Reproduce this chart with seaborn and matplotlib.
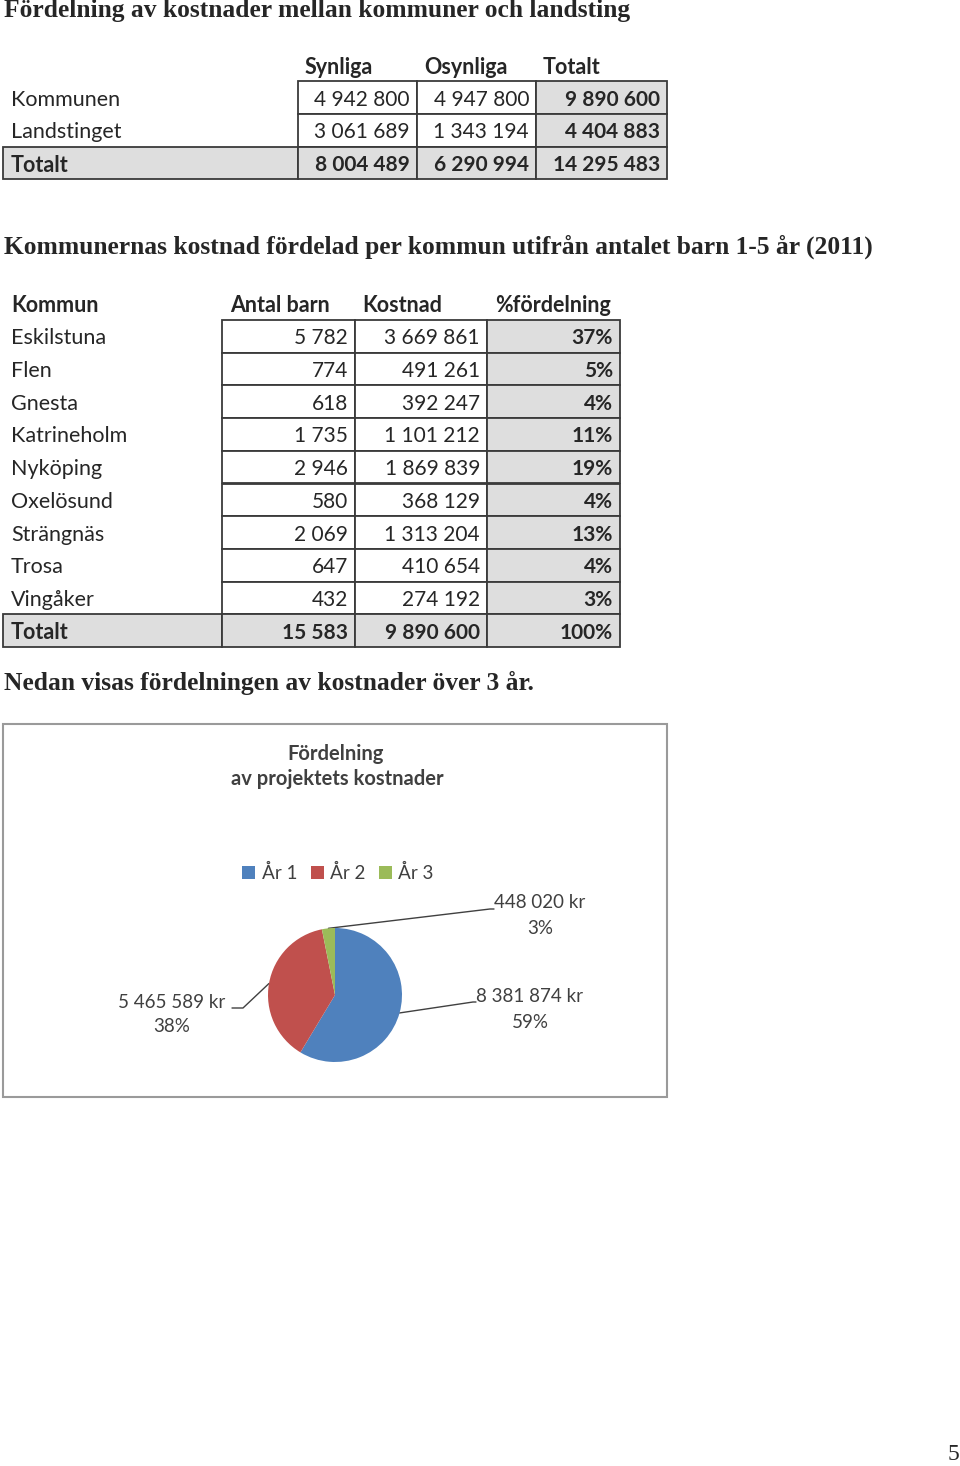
import numpy as np
import matplotlib
matplotlib.use("Agg")
import matplotlib.pyplot as plt
import matplotlib.patches as mpatches
import seaborn as sns

# Table 1: kommuner och landsting
t1_rows = ["Kommunen", "Landstinget"]
t1_cols = ["Synliga", "Osynliga", "Totalt"]
t1_synliga = [4942800, 3061689]
t1_osynliga = [4947800, 1343194]

# Table 2: kostnad per kommun
kommuner = ["Eskilstuna", "Flen", "Gnesta", "Katrineholm", "Nyköping",
            "Oxelösund", "Strängnäs", "Trosa", "Vingåker"]
antal_barn = [5782, 774, 618, 1735, 2946, 580, 2069, 647, 432]
kostnad = [3669861, 491261, 392247, 1101212, 1869839, 368129, 1313204, 410654, 274192]
fordelning = [37, 5, 4, 11, 19, 4, 13, 4, 3]
kostnad_totalt = 9890600
t2_cols = ["Kommun", "Antal barn", "Kostnad", "%fördelning"]

# Pie: kostnader över 3 år
ar_labels = ["År 1", "År 2", "År 3"]
ar_kostnad = [8381874, 5465589, 448020]
ar_colors = ["#4F81BD", "#C0504D", "#9BBB59"]

sns.set_theme(style="white")
plt.rcParams['font.family'] = ['Lato', 'DejaVu Sans']

SERIF = ['Liberation Serif', 'DejaVu Serif']
GRAY = "#DEDEDE"
EDGE = "#3a3a3a"
DY = 2  # baseline nudge for table text


def fmt(v):
    return f"{v:,}".replace(",", " ")


fig = plt.figure(figsize=(9.6, 14.66), dpi=100)
ax = fig.add_axes([0, 0, 1, 1])
ax.set_xlim(0, 960)
ax.set_ylim(1466, 0)
ax.axis("off")


def cell(x0, y0, x1, y1, fill="white"):
    ax.add_patch(mpatches.Rectangle((x0, y0), x1 - x0, y1 - y0, facecolor=fill,
                                    edgecolor=EDGE, linewidth=1.3, zorder=1))


# headings
HFS = 18.4
ax.text(4, 11, "Fördelning av kostnader mellan kommuner och landsting",
        family=SERIF, fontweight="bold", fontsize=HFS, va="center", ha="left")
ax.text(4, 247, "Kommunernas kostnad fördelad per kommun utifrån antalet barn 1-5 år (2011)",
        family=SERIF, fontweight="bold", fontsize=HFS, va="center", ha="left")
ax.text(4, 683, "Nedan visas fördelningen av kostnader över 3 år.",
        family=SERIF, fontweight="bold", fontsize=HFS, va="center", ha="left")
ax.text(953, 1455, "5", family=SERIF, fontsize=17, va="center", ha="center")

FS = 15.5
NFS = 15

# ---- table 1
c1 = [298, 417, 536, 667]
r1 = [81, 114, 147, 179]
for x, name in zip([305, 424, 543], t1_cols):
    ax.text(x, 66 + DY, name, fontsize=FS, fontweight="bold", va="center")
t1_tot = [a + b for a, b in zip(t1_synliga, t1_osynliga)]
for i, name in enumerate(t1_rows):
    y0, y1 = r1[i], r1[i + 1]
    yc = (y0 + y1) / 2 + DY
    ax.text(11, yc, name, fontsize=FS, va="center")
    vals = [t1_synliga[i], t1_osynliga[i], t1_tot[i]]
    for j, v in enumerate(vals):
        cell(c1[j], y0, c1[j + 1], y1, GRAY if j == 2 else "white")
        ax.text(c1[j + 1] - 7, yc, fmt(v), fontsize=NFS, va="center", ha="right",
                fontweight="bold" if j == 2 else "normal")
y0, y1 = r1[2], r1[3]
yc = (y0 + y1) / 2 + DY
cell(3, y0, c1[0], y1, GRAY)
ax.text(11, yc, "Totalt", fontsize=FS, fontweight="bold", va="center")
tot_vals = [sum(t1_synliga), sum(t1_osynliga), sum(t1_tot)]
for j, v in enumerate(tot_vals):
    cell(c1[j], y0, c1[j + 1], y1, GRAY)
    ax.text(c1[j + 1] - 7, yc, fmt(v), fontsize=NFS, fontweight="bold", va="center", ha="right")

# ---- table 2
c2 = [222, 355, 487, 620]
rh = (647 - 320) / 10
for x, name in zip([11, 230, 362, 495], t2_cols):
    ax.text(x, 304 + DY, name, fontsize=FS, fontweight="bold", va="center")
for i, name in enumerate(kommuner):
    y0 = 320 + i * rh
    yc = y0 + rh / 2 + DY
    ax.text(11, yc, name, fontsize=FS, va="center")
    vals = [fmt(antal_barn[i]), fmt(kostnad[i]), f"{fordelning[i]}%"]
    for j, s in enumerate(vals):
        cell(c2[j], y0, c2[j + 1], y0 + rh, GRAY if j == 2 else "white")
        ax.text(c2[j + 1] - 7, yc, s, fontsize=NFS, va="center", ha="right",
                fontweight="bold" if j == 2 else "normal")
y0 = 320 + 9 * rh
yc = y0 + rh / 2 + DY
cell(3, y0, c2[0], y0 + rh, GRAY)
ax.text(11, yc, "Totalt", fontsize=FS, fontweight="bold", va="center")
for j, s in enumerate([fmt(sum(antal_barn)), fmt(kostnad_totalt), "100%"]):
    cell(c2[j], y0, c2[j + 1], y0 + rh, GRAY)
    ax.text(c2[j + 1] - 7, yc, s, fontsize=NFS, fontweight="bold", va="center", ha="right")

# ---- chart box
ax.add_patch(mpatches.Rectangle((3, 724), 664, 373, facecolor="white",
                                edgecolor="#9a9a9a", linewidth=1.5, zorder=1))
ax.text(336, 754, "Fördelning", fontsize=14.5, fontweight="bold", color="#404040",
        ha="center", va="center")
ax.text(337, 779, "av projektets kostnader", fontsize=14.5, fontweight="bold", color="#404040",
        ha="center", va="center")

cx, cy, R = 335, 995, 67
ax_pie = fig.add_axes([(cx - 70) / 960, 1 - (cy + 70) / 1466, 140 / 960, 140 / 1466])
wedges, _ = ax_pie.pie(ar_kostnad, colors=ar_colors, startangle=90, counterclock=False,
                       wedgeprops=dict(linewidth=0))
ax_pie.set_xlim(-70 / R, 70 / R)
ax_pie.set_ylim(-70 / R, 70 / R)
ax_pie.set_aspect("equal")

ax_pie.legend(wedges, ar_labels, ncol=3, loc="center",
              bbox_to_anchor=(338 / 960, 1 - 873 / 1466), bbox_transform=fig.transFigure,
              frameon=False, fontsize=13.5, handlelength=0.7, handleheight=0.7,
              handletextpad=0.35, columnspacing=0.7, labelcolor="#404040")

# data labels with leader lines
tot = sum(ar_kostnad)
fr = np.array(ar_kostnad) / tot
mid = 90 - 360 * (np.cumsum(fr) - fr / 2)
label_pos = [(530, 997), (172, 1002), (540, 903)]
elbow = [(473, 1002, 476), (243, 1008, 232), (490, 909, 494)]
for k in range(3):
    a = np.deg2rad(mid[k])
    px, py = cx + R * np.cos(a), cy - R * np.sin(a)
    ex, ey, hx = elbow[k]
    ax.plot([px, ex, hx], [py, ey, ey], color="#404040", linewidth=1, zorder=3)
    lx, ly = label_pos[k]
    ax.text(lx, ly, fmt(ar_kostnad[k]) + " kr", fontsize=13.5, color="#404040",
            ha="center", va="center")
    ax.text(lx, ly + 25, f"{round(100 * fr[k])}%", fontsize=13.5, color="#404040",
            ha="center", va="center")

fig.savefig("out.png", dpi=100)
